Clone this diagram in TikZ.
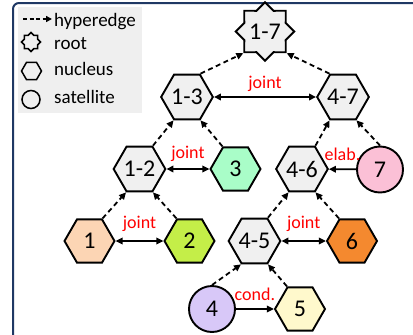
\documentclass[tikz,border=0pt]{standalone}
\usepackage{fontspec}
\setmainfont{Carlito}
\usetikzlibrary{shapes.geometric, arrows.meta}
\definecolor{framecol}{HTML}{1F3864}
\definecolor{legbg}{HTML}{EFEFEF}
\definecolor{inner}{HTML}{F0F0F0}
\definecolor{cA}{HTML}{FCD5B4}
\definecolor{cB}{HTML}{C4EE48}
\definecolor{cC}{HTML}{A9FDC8}
\definecolor{cD}{HTML}{D8C8F8}
\definecolor{cE}{HTML}{FFF9CC}
\definecolor{cF}{HTML}{F4892F}
\definecolor{cG}{HTML}{FBC0D6}
\tikzset{
  hexn/.style={regular polygon, regular polygon sides=6, draw, line width=1.9pt,
    minimum size=50pt, inner sep=0pt, font=\fontsize{24}{24}\selectfont},
  satn/.style={circle, draw, line width=1.9pt, minimum size=46pt, inner sep=0pt,
    font=\fontsize{24}{24}\selectfont},
  rootn/.style={star, star points=8, star point ratio=1.31, draw, line width=1.9pt,
    minimum size=54pt, inner sep=0pt, fill=inner, font=\fontsize{24}{24}\selectfont},
  hyper/.style={line width=1.8pt, dash pattern=on 5pt off 3.5pt,
    -{Triangle[length=7pt,width=6.5pt]}},
  biarrow/.style={line width=1.8pt, {Triangle[length=7pt,width=6.5pt]}-{Triangle[length=7pt,width=6.5pt]}},
  onearrow/.style={line width=1.8pt, -{Triangle[length=7pt,width=6.5pt]}},
  lbl/.style={text=red, font=\fontsize{18}{18}\selectfont, inner sep=0pt},
  legtext/.style={anchor=base west, inner sep=0pt, font=\fontsize{19}{19}\selectfont},
}
\begin{document}
\begin{tikzpicture}[x=1pt, y=-1pt]
\useasboundingbox (0,0) rectangle (413,335);
% frame
\draw[framecol, line width=2pt, rounded corners=6pt] (13,3) rectangle (432,352);
% legend
\fill[legbg] (18,7) rectangle (142,113);
\coordinate (la) at (23,19);
\coordinate (lb) at (52,19);
\draw[line width=1.6pt, dash pattern=on 4pt off 2.5pt, -{Triangle[length=6pt,width=6pt]}] (la) -- (lb);
\node[legtext] (lt1) at (54,26) {hyperedge};
\node[star, star points=8, star point ratio=1.31, draw, line width=1.5pt, minimum size=19pt, inner sep=0pt] (lstar) at (31,42) {};
\node[legtext] (lt2) at (54,49.5) {root};
\node[regular polygon, regular polygon sides=6, draw, line width=1.5pt, minimum size=20pt, inner sep=0pt] (lhex) at (31.5,71) {};
\node[legtext] (lt3) at (54,75.5) {nucleus};
\node[circle, draw, line width=1.5pt, minimum size=18pt, inner sep=0pt] (lcirc) at (31,99.5) {};
\node[legtext] (lt4) at (54,103) {satellite};
% nodes
\node[rootn] (n17) at (265,31.5) {1-7};
\node[hexn, fill=inner] (n13) at (187,97) {1-3};
\node[hexn, fill=inner] (n47) at (343,97) {4-7};
\node[hexn, fill=inner] (n12) at (139.5,169) {1-2};
\node[hexn, fill=cC] (n3) at (235.5,169) {3};
\node[hexn, fill=inner] (n46) at (302,169) {4-6};
\node[satn, fill=cG] (n7) at (380,169.5) {7};
\node[hexn, fill=cA] (n1) at (89.5,241) {1};
\node[hexn, fill=cB] (n2) at (189.5,241) {2};
\node[hexn, fill=inner] (n45) at (254.5,241) {4-5};
\node[hexn, fill=cF] (n6) at (352,241) {6};
\node[satn, fill=cD] (n4) at (212,309) {4};
\node[hexn, fill=cE] (n5) at (300,309) {5};
% hyperedges
\draw[hyper] (n1.60) -- (n12.240);
\draw[hyper] (n2.120) -- (n12.300);
\draw[hyper] (n12.60) -- (n13.240);
\draw[hyper] (n3.120) -- (n13.300);
\draw[hyper] (n13.60) -- (n17.225);
\draw[hyper] (n47.120) -- (n17.315);
\draw[hyper] (n46.60) -- (n47.240);
\draw[hyper] (n7.north) -- (n47.300);
\draw[hyper] (n45.60) -- (n46.240);
\draw[hyper] (n6.120) -- (n46.300);
\draw[hyper] (n4.north) -- (n45.240);
\draw[hyper] (n5.120) -- (n45.300);
% relations
\draw[biarrow] (n1) -- node[lbl, yshift=17pt] {joint} (n2);
\draw[biarrow] (n12) -- node[lbl, yshift=15pt] {joint} (n3);
\draw[biarrow] (n13) -- node[lbl, yshift=13pt] {joint} (n47);
\draw[biarrow] (n45) -- node[lbl, yshift=17pt] {joint} (n6);
\draw[onearrow] (n7) -- node[lbl, yshift=15pt] {elab.} (n46);
\draw[onearrow] (n4) -- node[lbl, yshift=15pt] {cond.} (n5);
\end{tikzpicture}
\end{document}
